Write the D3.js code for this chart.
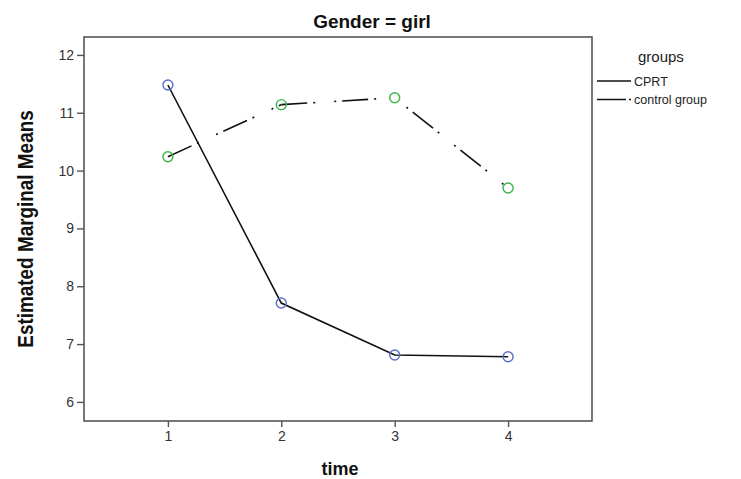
<!DOCTYPE html>
<html><head><meta charset="utf-8">
<script src="https://cdn.jsdelivr.net/npm/d3@7"></script>
<style>
body{margin:0;background:#fff;}
svg{display:block;font-family:"Liberation Sans",Arial,sans-serif;}
</style></head>
<body>
<svg id="c" width="741" height="479"></svg>
<script>
const times = [1, 2, 3, 4];
const cprt = [11.48, 7.71, 6.81, 6.78];
const control = [10.24, 11.14, 11.26, 9.70];
const yTicks = [6, 7, 8, 9, 10, 11, 12];
const seriesNames = ["CPRT", "control group"];

const svg = d3.select("#c");
const L = 84, R = 592, T = 37, B = 421;
const x = d3.scaleLinear().domain([0.26, 4.74]).range([L, R]);
const y = d3.scaleLinear().domain([5.67, 12.31]).range([B, T]);

// frame
svg.append("rect").attr("x", L).attr("y", T).attr("width", R - L).attr("height", B - T)
  .attr("fill", "none").attr("stroke", "#555").attr("stroke-width", 1.6);

// y axis
const ya = svg.append("g").attr("transform", `translate(${L},0)`)
  .call(d3.axisLeft(y).tickValues(yTicks).tickSize(7).tickPadding(3).tickFormat(d3.format("d")));
ya.select(".domain").remove();
ya.selectAll("line").attr("stroke", "#555").attr("stroke-width", 1.4);
ya.selectAll("text").attr("font-size", 14).attr("fill", "#333").attr("font-family", "Liberation Sans, Arial, sans-serif");

// x axis
const xa = svg.append("g").attr("transform", `translate(0,${B})`)
  .call(d3.axisBottom(x).tickValues(times).tickSize(6).tickPadding(4).tickFormat(d3.format("d")));
xa.select(".domain").remove();
xa.selectAll("line").attr("stroke", "#555").attr("stroke-width", 1.4);
xa.selectAll("text").attr("font-size", 14).attr("fill", "#333").attr("font-family", "Liberation Sans, Arial, sans-serif");

// title & axis labels
svg.append("text").attr("x", 372).attr("y", 28).attr("text-anchor", "middle")
  .attr("font-size", 19).attr("font-weight", "bold").attr("fill", "#111").text("Gender = girl");
svg.append("text").attr("x", 340).attr("y", 475).attr("text-anchor", "middle")
  .attr("font-size", 18).attr("font-weight", "bold").attr("fill", "#111").text("time");
svg.append("text").attr("transform", "translate(33,229) rotate(-90) scale(0.86,1)").attr("text-anchor", "middle")
  .attr("font-size", 22).attr("font-weight", "bold").attr("fill", "#111").text("Estimated Marginal Means");

const line = d3.line().x(d => x(d[0])).y(d => y(d[1]));
const dash = "26,6,2,19,2,6";
const segOffsets = [0, 0, 38];

svg.append("path").datum(cprt.map((v, i) => [times[i], v])).attr("d", line).attr("fill", "none")
  .attr("stroke", "#111").attr("stroke-width", 1.6);
for (let i = 0; i < control.length - 1; i++) {
  svg.append("path").datum([[times[i], control[i]], [times[i + 1], control[i + 1]]])
    .attr("d", line).attr("fill", "none")
    .attr("stroke", "#111").attr("stroke-width", 1.6)
    .attr("stroke-dasharray", dash).attr("stroke-dashoffset", segOffsets[i]);
}

svg.selectAll("circle.a").data(cprt).enter().append("circle")
  .attr("cx", (d, i) => x(times[i])).attr("cy", d => y(d)).attr("r", 5)
  .attr("fill", "none").attr("stroke", "#5b6fc8").attr("stroke-width", 1.4);
svg.selectAll("circle.b").data(control).enter().append("circle")
  .attr("cx", (d, i) => x(times[i])).attr("cy", d => y(d)).attr("r", 5)
  .attr("fill", "none").attr("stroke", "#3cb44a").attr("stroke-width", 1.4);

// legend
svg.append("text").attr("x", 638).attr("y", 62).attr("font-size", 15).attr("fill", "#222").text("groups");
const lg = svg.append("g");
seriesNames.forEach((n, i) => {
  const yy = 81 + i * 18.5;
  lg.append("line").attr("x1", 597).attr("x2", 631).attr("y1", yy).attr("y2", yy)
    .attr("stroke", "#111").attr("stroke-width", 1.4)
    .attr("stroke-dasharray", i === 1 ? "29,3,2,20" : null);
  lg.append("text").attr("x", 634).attr("y", yy + 4.5).attr("font-size", 12.5).attr("fill", "#222").text(n);
});
</script>
</body></html>
